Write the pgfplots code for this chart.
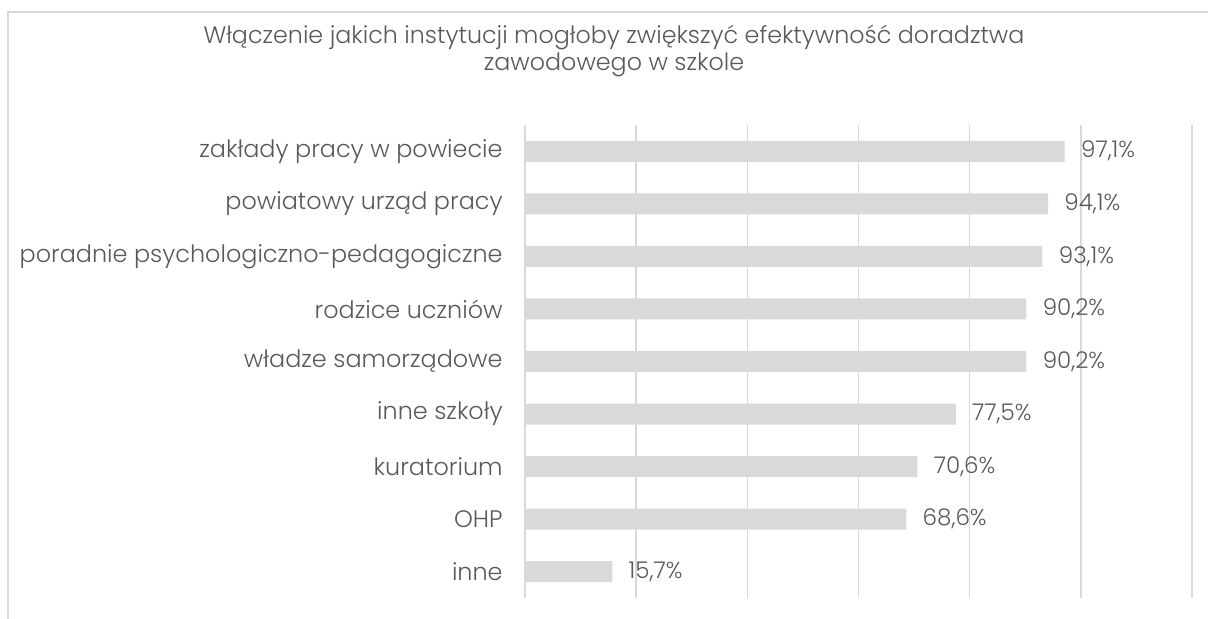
\documentclass[border=0pt]{standalone}
\usepackage{pgfplots}
\pgfplotsset{compat=1.18}
\usepackage{fontspec}
\setmainfont{Poppins}[UprightFont=* Light]
\definecolor{txt}{HTML}{595959}
\definecolor{grd}{HTML}{D9D9D9}
\begin{document}
\begin{tikzpicture}
\path[use as bounding box] (0pt,0pt) rectangle (604pt,309.5pt);
\draw[grd, line width=0.8pt] (4pt,0pt) -- (4pt,303.5pt) -- (604pt,303.5pt);
\node[txt, align=center, font=\fontsize{11.9}{13.5}\selectfont] at (307pt,284.2pt) {Włączenie jakich instytucji mogłoby zwiększyć efektywność doradztwa\\zawodowego w szkole};
\begin{axis}[
  at={(262.5pt,10.5pt)}, anchor=south west,
  scale only axis, width=333.5pt, height=236.5pt,
  xmin=0, xmax=120, ymin=-0.5, ymax=8.5,
  axis line style={draw=none},
  xtick={0,20,...,120}, xticklabels={},
  xmajorgrids, grid style={grd, line width=0.8pt},
  major tick length=0pt,
  ytick={0,...,8},
  yticklabels={inne,OHP,kuratorium,inne szkoły,władze samorządowe,rodzice uczniów,poradnie psychologiczno-pedagogiczne,powiatowy urząd pracy,zakłady pracy w powiecie},
  yticklabel style={txt, font=\fontsize{11.95}{13}\selectfont, inner sep=0pt, xshift=-11pt},
  xbar, bar width=10.5pt,
  point meta=explicit symbolic,
  nodes near coords={\pgfplotspointmeta},
  nodes near coords style={txt, font=\fontsize{11.5}{13}\selectfont, anchor=west, inner sep=0pt, xshift=8pt},
  clip=false,
]
\addplot[fill=grd, draw=none] coordinates {
(15.7,0) [15,7\%]
(68.6,1) [68,6\%]
(70.6,2) [70,6\%]
(77.5,3) [77,5\%]
(90.2,4) [90,2\%]
(90.2,5) [90,2\%]
(93.1,6) [93,1\%]
(94.1,7) [94,1\%]
(97.1,8) [97,1\%]
};
\end{axis}
\end{tikzpicture}
\end{document}
